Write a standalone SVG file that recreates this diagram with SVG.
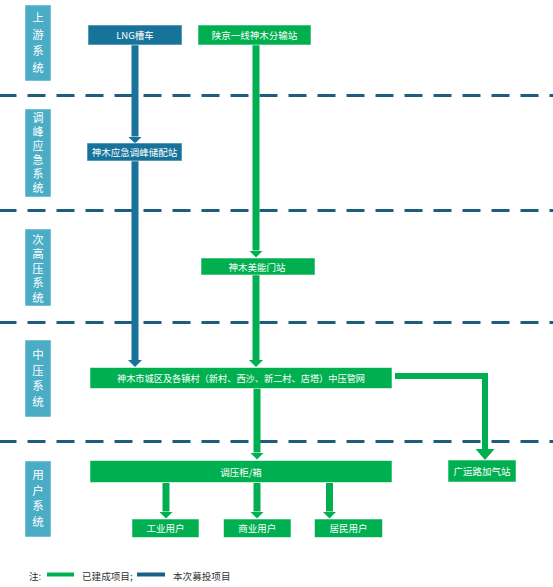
<svg xmlns="http://www.w3.org/2000/svg" width="553" height="587" viewBox="0 0 553 587">
<style>
.lab{fill:#4BACC6;stroke:#ffffff;stroke-opacity:0.5;stroke-width:1}
.labt{fill:#ffffff;font-family:"Noto Sans CJK SC","Noto Sans",sans-serif;font-size:11.5px;text-anchor:middle;dominant-baseline:central}
.bn{fill:#18739B;stroke:#ffffff;stroke-opacity:0.55;stroke-width:1}
.gn{fill:#00B050;stroke:#ffffff;stroke-opacity:0.55;stroke-width:1}
.nt{fill:#ffffff;font-family:"Noto Sans CJK SC","Noto Sans",sans-serif;font-size:9.5px;text-anchor:middle;dominant-baseline:central}
.dash{stroke:#1D5E7E;stroke-width:3;stroke-dasharray:18 11;stroke-dashoffset:1.5;fill:none}
.cb{stroke:#18739B;stroke-width:7;fill:none}
.cg{stroke:#00B050;stroke-width:7;fill:none}
.cgr{stroke:#00B050;stroke-width:6;fill:none;stroke-linejoin:miter}
.legt{fill:#333333;font-family:"Noto Sans CJK SC","Noto Sans",sans-serif;font-size:9.6px;dominant-baseline:central}
</style>
<defs>
<marker id="ab" markerUnits="userSpaceOnUse" viewBox="0 0 7 14" markerWidth="7" markerHeight="14" refX="0" refY="7" orient="auto"><path d="M0,0 L7,7 L0,14 z" fill="#18739B"/></marker>
<marker id="ag" markerUnits="userSpaceOnUse" viewBox="0 0 7 14" markerWidth="7" markerHeight="14" refX="0" refY="7" orient="auto"><path d="M0,0 L7,7 L0,14 z" fill="#00B050"/></marker>
<marker id="agl" markerUnits="userSpaceOnUse" viewBox="0 0 11 19" markerWidth="11" markerHeight="19" refX="0" refY="9.5" orient="auto"><path d="M0,0 L11,9.5 L0,19 z" fill="#00B050"/></marker>
</defs>
<rect width="553" height="587" fill="#ffffff"/>

<g id="dividers">
<line class="dash" x1="0" y1="95.5" x2="553" y2="95.5"/>
<line class="dash" x1="0" y1="210.5" x2="553" y2="210.5"/>
<line class="dash" x1="0" y1="322.5" x2="553" y2="322.5"/>
<line class="dash" x1="0" y1="441.5" x2="553" y2="441.5"/>
</g>

<g id="lab-upstream"><rect class="lab" x="25" y="5" width="26" height="76"/>
<text class="labt"><tspan x="38" y="17">上</tspan><tspan x="38" y="33.5">游</tspan><tspan x="38" y="50">系</tspan><tspan x="38" y="66.5">统</tspan></text></g>
<g id="lab-peak"><rect class="lab" x="25" y="109" width="26" height="88"/>
<text x="38" y="154.5" style="writing-mode:vertical-rl;text-orientation:upright;font-size:11px;letter-spacing:3px;fill:#ffffff;font-family:'Noto Sans CJK SC','Noto Sans',sans-serif;text-anchor:middle">调峰应急系统</text></g>
<g id="lab-subhigh"><rect class="lab" x="25" y="229" width="26" height="77"/>
<text class="labt"><tspan x="38" y="238.5">次</tspan><tspan x="38" y="253">高</tspan><tspan x="38" y="267.5">压</tspan><tspan x="38" y="282">系</tspan><tspan x="38" y="296.5">统</tspan></text></g>
<g id="lab-medium"><rect class="lab" x="25" y="340" width="26" height="77"/>
<text class="labt"><tspan x="38" y="354">中</tspan><tspan x="38" y="369.5">压</tspan><tspan x="38" y="385">系</tspan><tspan x="38" y="400.5">统</tspan></text></g>
<g id="lab-user"><rect class="lab" x="25" y="461" width="26" height="76"/>
<text class="labt"><tspan x="38" y="474">用</tspan><tspan x="38" y="489.5">户</tspan><tspan x="38" y="505">系</tspan><tspan x="38" y="520.5">统</tspan></text></g>

<g id="connectors">
<line class="cb" x1="135" y1="45" x2="135" y2="136.5" marker-end="url(#ab)"/>
<line class="cb" x1="135" y1="161" x2="135" y2="360" marker-end="url(#ab)"/>
<line class="cg" x1="256" y1="45" x2="256" y2="250.5" marker-end="url(#ag)"/>
<line class="cg" x1="256" y1="275" x2="256" y2="360" marker-end="url(#ag)"/>
<line class="cg" x1="257" y1="388" x2="257" y2="452.5" marker-end="url(#ag)"/>
<path class="cgr" d="M395,376 H485 V449" marker-end="url(#agl)"/>
<line class="cg" x1="166" y1="483" x2="166" y2="511.5" marker-end="url(#ag)"/>
<line class="cg" x1="257" y1="483" x2="257" y2="511.5" marker-end="url(#ag)"/>
<line class="cg" x1="329.5" y1="483" x2="329.5" y2="511.5" marker-end="url(#ag)"/>
</g>

<g id="n-lng"><rect class="bn" x="88" y="25" width="94" height="20"/><text class="nt" x="135" y="35">LNG槽车</text></g>
<g id="n-shanjing"><rect class="gn" x="198" y="25" width="113" height="20"/><text class="nt" x="254.5" y="35">陕京一线神木分输站</text></g>
<g id="n-peak"><rect class="bn" x="87" y="143" width="95" height="18"/><text class="nt" x="134.5" y="152">神木应急调峰储配站</text></g>
<g id="n-meineng"><rect class="gn" x="201" y="258" width="114" height="17"/><text class="nt" x="257" y="266.5">神木美能门站</text></g>
<g id="n-medium"><rect class="gn" x="90" y="367.5" width="302" height="21"/><text class="nt" x="241" y="378" style="font-size:9.2px">神木市城区及各镇村（新村、西沙、新二村、店塔）中压管网</text></g>
<g id="n-regulator"><rect class="gn" x="90" y="460.5" width="302" height="22"/><text class="nt" x="241" y="471.5">调压柜/箱</text></g>
<g id="n-guangyun"><rect class="gn" x="448" y="460" width="68" height="22"/><text class="nt" x="482" y="471">广运路加气站</text></g>
<g id="n-industry"><rect class="gn" x="132" y="519" width="67" height="18.5"/><text class="nt" x="165.5" y="528.2">工业用户</text></g>
<g id="n-commerce"><rect class="gn" x="223.5" y="519" width="67.5" height="18.5"/><text class="nt" x="257.2" y="528.2">商业用户</text></g>
<g id="n-resident"><rect class="gn" x="314.5" y="519" width="68" height="18.5"/><text class="nt" x="348.5" y="528.2">居民用户</text></g>

<g id="legend">
<text class="legt" x="29" y="575.5">注:</text>
<line x1="47" y1="574.5" x2="74" y2="574.5" stroke="#00B050" stroke-width="4"/>
<text class="legt" x="82" y="575.5">已建成项目;</text>
<line x1="137" y1="574.5" x2="165" y2="574.5" stroke="#1A5F86" stroke-width="4"/>
<text class="legt" x="173" y="575.5">本次募投项目</text>
</g>
</svg>
